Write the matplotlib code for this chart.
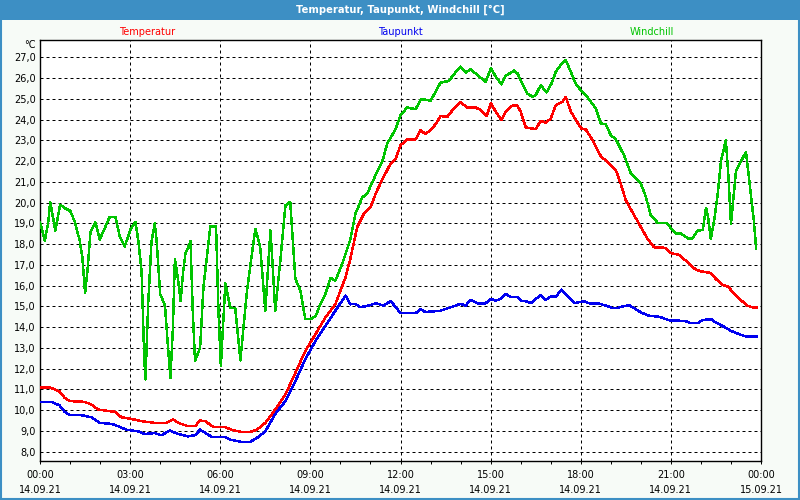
import matplotlib
matplotlib.use("Agg")
import matplotlib.pyplot as plt
from matplotlib.patches import Rectangle
from matplotlib.ticker import FixedLocator, MultipleLocator, FuncFormatter

plt.rcParams['font.family'] = ['DejaVu Sans']

title = "Temperatur, Taupunkt, Windchill [°C]"
series_names = ["Temperatur", "Taupunkt", "Windchill"]
unit_label = "°C"

temp_hours = [0, 0.32, 0.65, 0.82, 0.99, 1.49, 1.71, 1.93, 2.49, 2.71, 3.04, 3.38, 3.82, 4.21, 4.43, 4.6,
              4.93, 5.16, 5.33, 5.5, 5.78, 6.17, 6.39, 6.72, 6.99, 7.22, 7.5, 7.83, 8.17, 8.5, 8.83, 9.17,
              9.5, 9.83, 10.17, 10.33, 10.56, 10.78, 11.0, 11.22, 11.44, 11.67, 11.83, 12.0, 12.22, 12.5,
              12.67, 12.83, 13.06, 13.22, 13.33, 13.56, 13.78, 14.0, 14.22, 14.5, 14.67, 14.87, 15.01,
              15.17, 15.36, 15.5, 15.72, 15.89, 16.0, 16.17, 16.5, 16.67, 16.83, 17.0, 17.17, 17.39, 17.5,
              17.67, 17.83, 18.02, 18.17, 18.39, 18.67, 18.89, 19.17, 19.33, 19.5, 19.72, 20.0, 20.22,
              20.44, 20.83, 21.01, 21.28, 21.56, 21.83, 22.0, 22.33, 22.5, 22.72, 22.89, 23.11, 23.33,
              23.56, 23.72, 23.87]
temp_values = [11.1, 11.1, 10.9, 10.6, 10.44, 10.4, 10.27, 10.03, 9.92, 9.66, 9.58, 9.47, 9.39, 9.39, 9.55, 9.39,
               9.23, 9.23, 9.5, 9.47, 9.18, 9.18, 9.05, 8.95, 8.95, 9.06, 9.39, 10.03, 10.76, 11.8, 12.85, 13.66,
               14.47, 15.1, 16.4, 17.29, 18.82, 19.46, 19.79, 20.59, 21.24, 21.88, 22.07, 22.76, 23.04, 23.04,
               23.49, 23.3, 23.57, 23.89, 24.17, 24.13, 24.54, 24.83, 24.58, 24.58, 24.46, 24.17, 24.78,
               24.38, 23.97, 24.38, 24.67, 24.67, 24.38, 23.62, 23.54, 23.94, 23.84, 24.05, 24.7, 24.86, 25.1,
               24.38, 24.0, 23.57, 23.52, 23.01, 22.23, 21.96, 21.56, 20.91, 20.11, 19.54, 18.82, 18.26,
               17.85, 17.82, 17.56, 17.48, 17.12, 16.77, 16.69, 16.61, 16.32, 16.04, 15.96, 15.62, 15.3,
               15.03, 14.95, 14.95]

dew_hours = [0, 0.38, 0.65, 0.82, 0.99, 1.38, 1.71, 1.99, 2.38, 2.6, 2.88, 3.27, 3.49, 3.82, 4.04, 4.32, 4.6,
             4.93, 5.17, 5.33, 5.72, 6.17, 6.33, 6.72, 6.99, 7.22, 7.5, 7.83, 8.17, 8.5, 8.83, 9.17, 9.5,
             9.83, 10.17, 10.33, 10.5, 10.67, 10.94, 11.17, 11.44, 11.67, 11.83, 12.0, 12.5, 12.67, 12.83,
             13.33, 13.67, 14.0, 14.17, 14.33, 14.56, 14.83, 15.01, 15.17, 15.33, 15.5, 15.67, 15.89, 16.0,
             16.17, 16.33, 16.67, 16.83, 17.0, 17.17, 17.36, 17.56, 17.78, 17.94, 18.11, 18.28, 18.56,
             18.83, 19.06, 19.22, 19.39, 19.61, 19.78, 20.0, 20.28, 20.61, 20.83, 21.0, 21.28, 21.5, 21.67,
             21.89, 22.06, 22.33, 22.5, 22.78, 23.0, 23.22, 23.5, 23.87]
dew_values = [10.4, 10.4, 10.23, 9.92, 9.76, 9.76, 9.66, 9.39, 9.34, 9.23, 9.06, 8.98, 8.85, 8.9, 8.79, 9.02, 8.85,
              8.74, 8.8, 9.06, 8.71, 8.71, 8.58, 8.47, 8.47, 8.66, 8.98, 9.82, 10.44, 11.4, 12.45, 13.34, 14.06,
              14.79, 15.52, 15.1, 15.12, 14.96, 15.04, 15.15, 15.04, 15.25, 14.99, 14.67, 14.67, 14.86, 14.73,
              14.79, 14.96, 15.12, 15.04, 15.31, 15.15, 15.15, 15.36, 15.28, 15.36, 15.6, 15.44, 15.44, 15.28,
              15.25, 15.15, 15.55, 15.31, 15.47, 15.47, 15.81, 15.52, 15.16, 15.2, 15.25, 15.15, 15.15,
              15.04, 14.92, 14.92, 15.0, 15.05, 14.92, 14.71, 14.55, 14.5, 14.39, 14.31, 14.31, 14.28, 14.19,
              14.19, 14.34, 14.39, 14.22, 14.01, 13.82, 13.69, 13.55, 13.55]

wind_hours = [0, 0.16, 0.27, 0.34, 0.51, 0.67, 0.82, 1.01, 1.16, 1.32, 1.41, 1.5, 1.58, 1.68, 1.84, 1.99, 2.32,
              2.51, 2.66, 2.82, 3.02, 3.18, 3.27, 3.38, 3.47, 3.51, 3.6, 3.71, 3.82, 3.88, 4.0, 4.16, 4.27,
              4.34, 4.42, 4.49, 4.6, 4.68, 4.77, 4.84, 5.01, 5.08, 5.16, 5.33, 5.44, 5.67, 5.86, 5.94, 6.02,
              6.17, 6.33, 6.5, 6.67, 6.89, 7.06, 7.17, 7.33, 7.5, 7.67, 7.74, 7.83, 8.0, 8.17, 8.33, 8.5,
              8.67, 8.83, 9.0, 9.17, 9.33, 9.5, 9.67, 9.83, 10.06, 10.33, 10.5, 10.72, 10.89, 11.17, 11.39,
              11.56, 11.72, 11.83, 12.0, 12.22, 12.5, 12.69, 13.0, 13.17, 13.33, 13.61, 13.89, 14.0, 14.17,
              14.33, 14.56, 14.83, 15.01, 15.17, 15.36, 15.5, 15.78, 15.89, 16.0, 16.22, 16.39, 16.5, 16.67,
              16.86, 17.03, 17.17, 17.39, 17.5, 17.64, 17.83, 18.0, 18.17, 18.5, 18.67, 18.83, 19.0, 19.17,
              19.44, 19.67, 20.0, 20.17, 20.33, 20.56, 20.86, 21.06, 21.17, 21.33, 21.56, 21.72, 21.89, 22.06,
              22.17, 22.24, 22.33, 22.44, 22.56, 22.67, 22.83, 22.91, 23.0, 23.17, 23.5, 23.61, 23.76, 23.84]
wind_values = [19.06, 18.18, 19.0, 20.03, 18.66, 19.9, 19.74, 19.6, 19.06, 18.18, 17.37, 15.63, 16.73, 18.58,
               19.06, 18.23, 19.31, 19.31, 18.34, 17.89, 18.74, 19.06, 18.18, 16.73, 12.53, 11.48, 15.1, 18.1,
               19.0, 18.18, 15.6, 15.03, 12.85, 11.56, 13.82, 17.29, 16.24, 15.27, 16.73, 17.53, 18.13, 14.95,
               12.37, 13.02, 15.92, 18.85, 18.85, 14.79, 12.13, 16.11, 14.95, 14.9, 12.4, 15.76, 17.6, 18.74,
               17.85, 14.79, 18.66, 17.05, 14.79, 17.21, 19.87, 20.03, 16.32, 15.76, 14.39, 14.39, 14.52,
               15.1, 15.6, 16.37, 16.24, 17.05, 18.22, 19.46, 20.24, 20.43, 21.32, 21.96, 22.85, 23.25, 23.52,
               24.21, 24.58, 24.5, 24.99, 24.91, 25.34, 25.78, 25.86, 26.39, 26.55, 26.26, 26.42, 26.15, 25.82,
               26.47, 26.07, 25.7, 26.1, 26.36, 26.23, 25.9, 25.26, 25.1, 25.18, 25.66, 25.31, 25.74, 26.31,
               26.74, 26.87, 26.39, 25.74, 25.42, 25.18, 24.54, 23.81, 23.78, 23.25, 23.04, 22.28, 21.4, 20.91,
               20.27, 19.38, 19.03, 19.03, 18.66, 18.5, 18.52, 18.28, 18.28, 18.65, 18.68, 19.75, 19.3, 18.25,
               19.14, 20.42, 22.03, 23.0, 21.39, 18.97, 21.55, 22.44, 21.07, 19.14, 17.77]

x_tick_hours = [0, 3, 6, 9, 12, 15, 18, 21, 24]
x_tick_labels = ["00:00\n14.09.21", "03:00\n14.09.21", "06:00\n14.09.21", "09:00\n14.09.21",
                 "12:00\n14.09.21", "15:00\n14.09.21", "18:00\n14.09.21", "21:00\n14.09.21",
                 "00:00\n15.09.21"]
y_ticks = list(range(8, 28))

W, H = 800, 500
bg = '#F7FBF7'
bar_blue = '#3D8FC4'
fig = plt.figure(figsize=(8, 5), dpi=100, facecolor=bg)

# title bar and frame
fig.patches.append(Rectangle((0, 1 - 20 / H), 1, 20 / H, transform=fig.transFigure,
                             facecolor=bar_blue, edgecolor='none', zorder=0))
fig.patches.append(Rectangle((1 / W, 1 / H), 1 - 2 / W, 1 - 2 / H, transform=fig.transFigure,
                             facecolor='none', edgecolor=bar_blue, linewidth=1.5, zorder=5))
fig.text(0.5, 1 - 10 / H, title, color='white', fontsize=7.2, fontweight='bold',
         ha='center', va='center')

colors = ['#FF0000', '#0000F0', '#00C400']
label_x = [147, 400, 652]
for name, c, lx in zip(series_names, colors, label_x):
    fig.text(lx / W, 1 - 32 / H, name, color=c, fontsize=7, ha='center', va='center')
fig.text(36 / W, 1 - 45.5 / H, unit_label, color='black', fontsize=7, ha='right', va='center')

ax = fig.add_axes([40 / W, 39 / H, 721 / W, 421 / H])
ax.set_facecolor('white')
ax.plot(temp_hours, temp_values, color=colors[0], lw=1.05, antialiased=False, zorder=3)
ax.plot(dew_hours, dew_values, color=colors[1], lw=1.05, antialiased=False, zorder=3)
ax.plot(wind_hours, wind_values, color=colors[2], lw=1.05, antialiased=False, zorder=3)

ax.set_xlim(0, 24)
ax.set_ylim(7.552, 27.833)
ax.xaxis.set_major_locator(FixedLocator(x_tick_hours))
ax.xaxis.set_minor_locator(MultipleLocator(1))
ax.set_xticklabels(x_tick_labels, fontsize=7, linespacing=1.7)
ax.yaxis.set_major_locator(FixedLocator(y_ticks))
ax.yaxis.set_major_formatter(FuncFormatter(lambda v, p: f"{v:.1f}".replace('.', ',')))
ax.tick_params(axis='y', length=0, pad=3, labelsize=7)
ax.tick_params(axis='x', which='both', length=2.2, width=0.72, direction='out', pad=4)
ax.grid(True, which='major', color='black', linestyle=(0, (3, 3)), linewidth=0.72, zorder=1)
for s in ax.spines.values():
    s.set_linewidth(1.0)
    s.set_color('black')

fig.savefig('out.png', dpi=100, facecolor=bg)
